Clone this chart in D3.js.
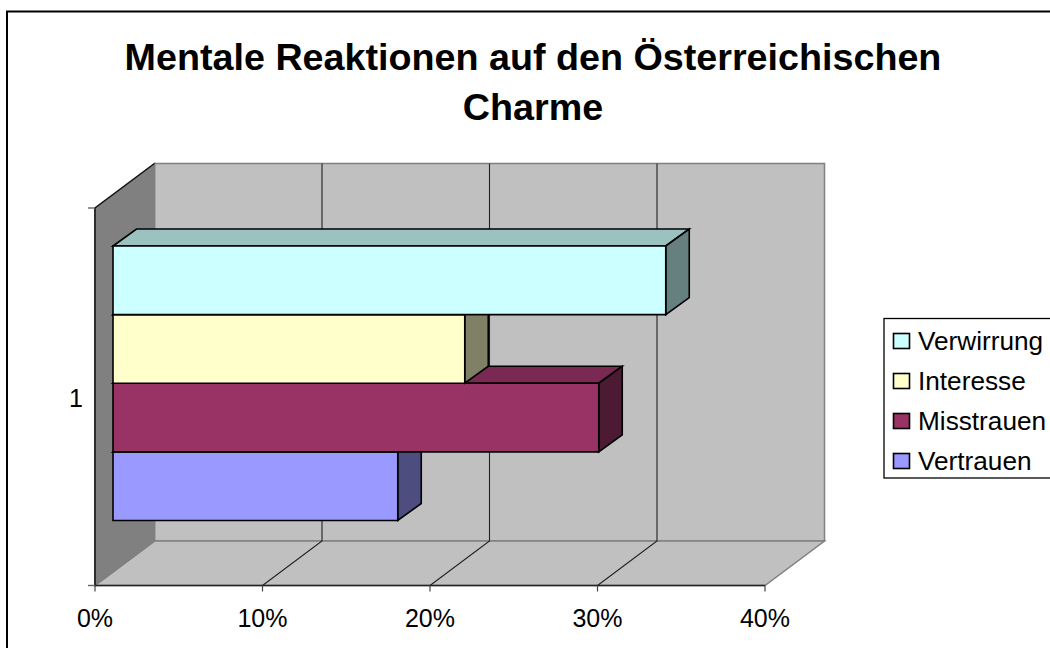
<!DOCTYPE html>
<html><head><meta charset="utf-8">
<script src="https://cdn.jsdelivr.net/npm/d3@7"></script>
<style>html,body{margin:0;background:#fff;overflow:hidden}svg{display:block}text{font-family:"Liberation Sans",Arial,sans-serif;fill:#000}</style>
</head><body><svg width="1050" height="648"></svg>
<script>
const titleLines = ["Mentale Reaktionen auf den Österreichischen", "Charme"];
const categories = ["1"];
const seriesNames = ["Vertrauen", "Misstrauen", "Interesse", "Verwirrung"];
const seriesValues = [17, 29, 21, 33];
const fronts = ["#9999ff", "#993366", "#ffffcc", "#ccffff"];
const tops = ["#7a7acc", "#7a2952", "#ccccA3", "#9cc2bf"];
const sides = ["#4d4d80", "#4d1a33", "#808066", "#668080"];
const xTicks = [0, 10, 20, 30, 40];
const legendOrder = [3, 2, 1, 0];

const svg = d3.select("svg");
svg.append("rect").attr("x",7).attr("y",11.5).attr("width",1100).attr("height",700).attr("fill","#fff").attr("stroke","#000").attr("stroke-width",2);

const x = d3.scaleLinear().domain([0,40]).range([95,765]);
const y = d3.scaleBand().domain(categories).range([585.5,208]);
const depth = {dx:59.5, dy:-44.5};
const bar = {ox:18, dx:23.5, dy:-17};
const line = d3.line();
const poly = (pts,fill,stroke,w=1.6) => svg.append("path").attr("d",line(pts)+"Z").attr("fill",fill).attr("stroke",stroke).attr("stroke-width",w).attr("stroke-linejoin","miter");

const x0=x(0), x1=x(40), yB=y.range()[0], yT=y.range()[1];
poly([[x0+depth.dx,yT+depth.dy],[x1+depth.dx,yT+depth.dy],[x1+depth.dx,yB+depth.dy],[x0+depth.dx,yB+depth.dy]],"#c0c0c0","#808080",1.5);
poly([[x0,yB],[x1,yB],[x1+depth.dx,yB+depth.dy],[x0+depth.dx,yB+depth.dy]],"#c0c0c0","#808080",1.5);
poly([[x0,yB],[x0,yT],[x0+depth.dx,yT+depth.dy],[x0+depth.dx,yB+depth.dy]],"#808080","#808080",1.5);
xTicks.slice(1,-1).forEach(t=>{
  const px=x(t);
  svg.append("path").attr("d",line([[px,yB],[px+depth.dx,yB+depth.dy],[px+depth.dx,yT+depth.dy]])).attr("fill","none").attr("stroke","#222").attr("stroke-width",1.1);
});
svg.append("path").attr("d",line([[x0,yT],[x0+depth.dx,yT+depth.dy]])).attr("stroke","#111").attr("stroke-width",1.3);
svg.append("path").attr("d",line([[x0,yB],[x1,yB]])).attr("stroke","#222").attr("stroke-width",1.6);
svg.append("path").attr("d",line([[x0,yB],[x0,yT]])).attr("stroke","#222").attr("stroke-width",1.8);
xTicks.forEach(t=>{
  svg.append("line").attr("x1",x(t)).attr("x2",x(t)).attr("y1",yB).attr("y2",yB+6).attr("stroke","#444").attr("stroke-width",1.2);
  svg.append("text").attr("x",x(t)).attr("y",627).attr("text-anchor","middle").attr("font-size",25).text(t+"%");
});
[yB,yT].forEach(v=>svg.append("line").attr("x1",x0-7).attr("x2",x0).attr("y1",v).attr("y2",v).attr("stroke","#666").attr("stroke-width",1.4));
svg.append("text").attr("x",76).attr("y",y.bandwidth()/2+yT+10).attr("text-anchor","middle").attr("font-size",25).text(categories[0]);

const barY = d3.scaleBand().domain(d3.range(seriesValues.length)).range([520.5,246]);
const bx0 = x0+bar.ox;
d3.range(seriesValues.length).forEach(i=>{
  const bx1 = bx0 + (x(seriesValues[i])-x0);
  const t = barY(i), b = t+barY.bandwidth();
  poly([[bx0,t],[bx1,t],[bx1+bar.dx,t+bar.dy],[bx0+bar.dx,t+bar.dy]],tops[i],"#000");
  poly([[bx1,t],[bx1+bar.dx,t+bar.dy],[bx1+bar.dx,b+bar.dy],[bx1,b]],sides[i],"#000");
  poly([[bx0,t],[bx1,t],[bx1,b],[bx0,b]],fronts[i],"#000");
});

titleLines.forEach((s,i)=>svg.append("text").attr("x",533).attr("y",70+i*50).attr("text-anchor","middle").attr("font-size",37.7).attr("font-weight","bold").text(s));

const lg = svg.append("g");
lg.append("rect").attr("x",884).attr("y",318.5).attr("width",170).attr("height",159.5).attr("fill","#fff").attr("stroke","#000").attr("stroke-width",1.3);
legendOrder.forEach((i,k)=>{
  const ly = 341 + k*40;
  lg.append("rect").attr("x",893.5).attr("y",ly-7.5).attr("width",16).attr("height",15).attr("fill",fronts[i]).attr("stroke","#000").attr("stroke-width",1.6);
  lg.append("text").attr("x",918).attr("y",ly+8.5).attr("font-size",26.2).text(seriesNames[i]);
});
</script></body></html>
